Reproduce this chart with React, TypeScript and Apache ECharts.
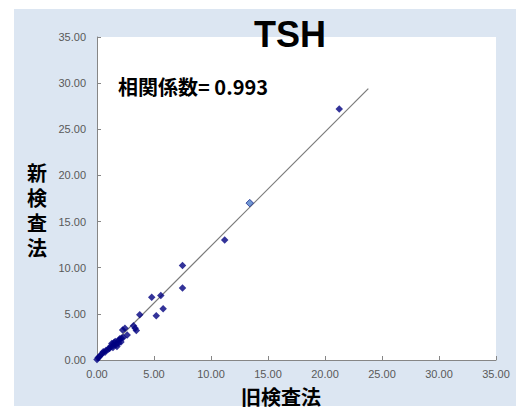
import React, { useEffect, useRef } from "react";
import * as echarts from "echarts";

const oldMethod = [
  0.0, 0.1, 0.2, 0.3, 0.45, 0.55, 0.7, 0.8, 1.0, 1.1, 1.2, 1.3, 1.4, 1.45, 1.5, 1.6, 1.7, 1.75,
  1.9, 1.9, 2.0, 2.1, 2.15, 2.25, 2.3, 2.45, 2.65, 3.2, 3.35, 3.45, 3.75, 4.8, 5.2, 5.6, 5.8,
  7.5, 7.5, 11.2, 13.4, 21.25,
];
const newMethod = [
  0.05, 0.25, 0.35, 0.5, 0.7, 0.9, 0.85, 1.05, 1.2, 1.25, 1.5, 1.8, 1.35, 1.6, 1.9, 2.0, 1.7, 1.45,
  2.15, 1.85, 2.3, 1.95, 2.35, 3.25, 2.45, 3.45, 2.7, 3.7, 3.45, 3.2, 4.9, 6.8, 4.8, 7.0, 5.55,
  10.25, 7.8, 13.0, 17.0, 27.2,
];
const highlightIndex = 38;
const trendX = [0, 23.8];
const trendY = [0, 29.4];
const title = "TSH";
const corrText = "相関係数= 0.993";
const xName = "旧検査法";
const yName = "新検査法";

export default function App() {
  const ref = useRef<HTMLDivElement>(null);
  useEffect(() => {
    if (!ref.current) return;
    const chart = echarts.init(ref.current, null, { renderer: "svg" });
    const scatterData = oldMethod.map((x, i) => {
      const item: any = { value: [x, newMethod[i]] };
      if (i === highlightIndex) {
        item.itemStyle = { color: "#4f7fc8", borderColor: "#1a2a90", borderWidth: 1 };
      }
      return item;
    });
    const axisCommon = {
      type: "value",
      min: 0,
      max: 35,
      interval: 5,
      axisLine: { show: true, lineStyle: { color: "#868686", width: 1 } },
      axisTick: { show: true, inside: true, length: 4, lineStyle: { color: "#868686" } },
      splitLine: { show: false },
    };
    const yNameTexts = yName.split("").map((ch, i) => ({
      type: "text",
      x: 37,
      y: 172 + i * 25,
      z: 100,
      style: {
        text: ch,
        fill: "#000",
        font: "bold 20px 'Noto Sans CJK JP', sans-serif",
        lineHeight: 21,
        align: "center",
        verticalAlign: "middle",
      },
    }));
    chart.setOption({
      animation: false,
      backgroundColor: "#ffffff",
      graphic: [
        {
          type: "rect",
          z: -100,
          shape: { x: 14, y: 9, width: 502, height: 397 },
          style: { fill: "#dce6f2" },
          silent: true,
        },
        {
          type: "text",
          x: 290,
          y: 34,
          z: 100,
          style: {
            text: title,
            fill: "#000",
            font: "bold 36px 'Liberation Sans', Arial, sans-serif",
            align: "center",
            verticalAlign: "middle",
          },
        },
        {
          type: "text",
          x: 118,
          y: 86,
          z: 100,
          style: {
            text: corrText,
            fill: "#000",
            font: "bold 20px 'Noto Sans CJK JP', sans-serif",
            align: "left",
            verticalAlign: "middle",
          },
        },
        ...yNameTexts,
        {
          type: "text",
          x: 281,
          y: 396,
          z: 100,
          style: {
            text: xName,
            fill: "#000",
            font: "bold 20px 'Noto Sans CJK JP', sans-serif",
            lineHeight: 20,
            align: "center",
            verticalAlign: "middle",
          },
        },
      ],
      grid: {
        left: 97,
        right: 20,
        top: 37,
        bottom: 47,
        show: true,
        backgroundColor: "#ffffff",
        borderWidth: 0,
      },
      xAxis: {
        ...axisCommon,
        axisLabel: {
          formatter: (v: number) => v.toFixed(2),
          color: "#595959",
          fontSize: 11,
          fontFamily: "'Liberation Sans', Arial, sans-serif",
          margin: 8,
        },
      },
      yAxis: {
        ...axisCommon,
        axisLabel: {
          formatter: (v: number) => v.toFixed(2),
          color: "#595959",
          fontSize: 11,
          fontFamily: "'Liberation Sans', Arial, sans-serif",
          margin: 11,
        },
      },
      series: [
        {
          type: "line",
          data: trendX.map((x, i) => [x, trendY[i]]),
          symbol: "none",
          lineStyle: { color: "#7a7a7a", width: 1.2 },
          z: 1,
          silent: true,
        },
        {
          type: "scatter",
          data: scatterData,
          symbol: "diamond",
          symbolSize: 7.5,
          itemStyle: { color: "#000080" },
          z: 2,
        },
      ],
    });
    return () => chart.dispose();
  }, []);
  return (
    <div
      ref={ref}
      style={{ position: "fixed", left: 0, top: 0, width: 516, height: 407 }}
    />
  );
}
